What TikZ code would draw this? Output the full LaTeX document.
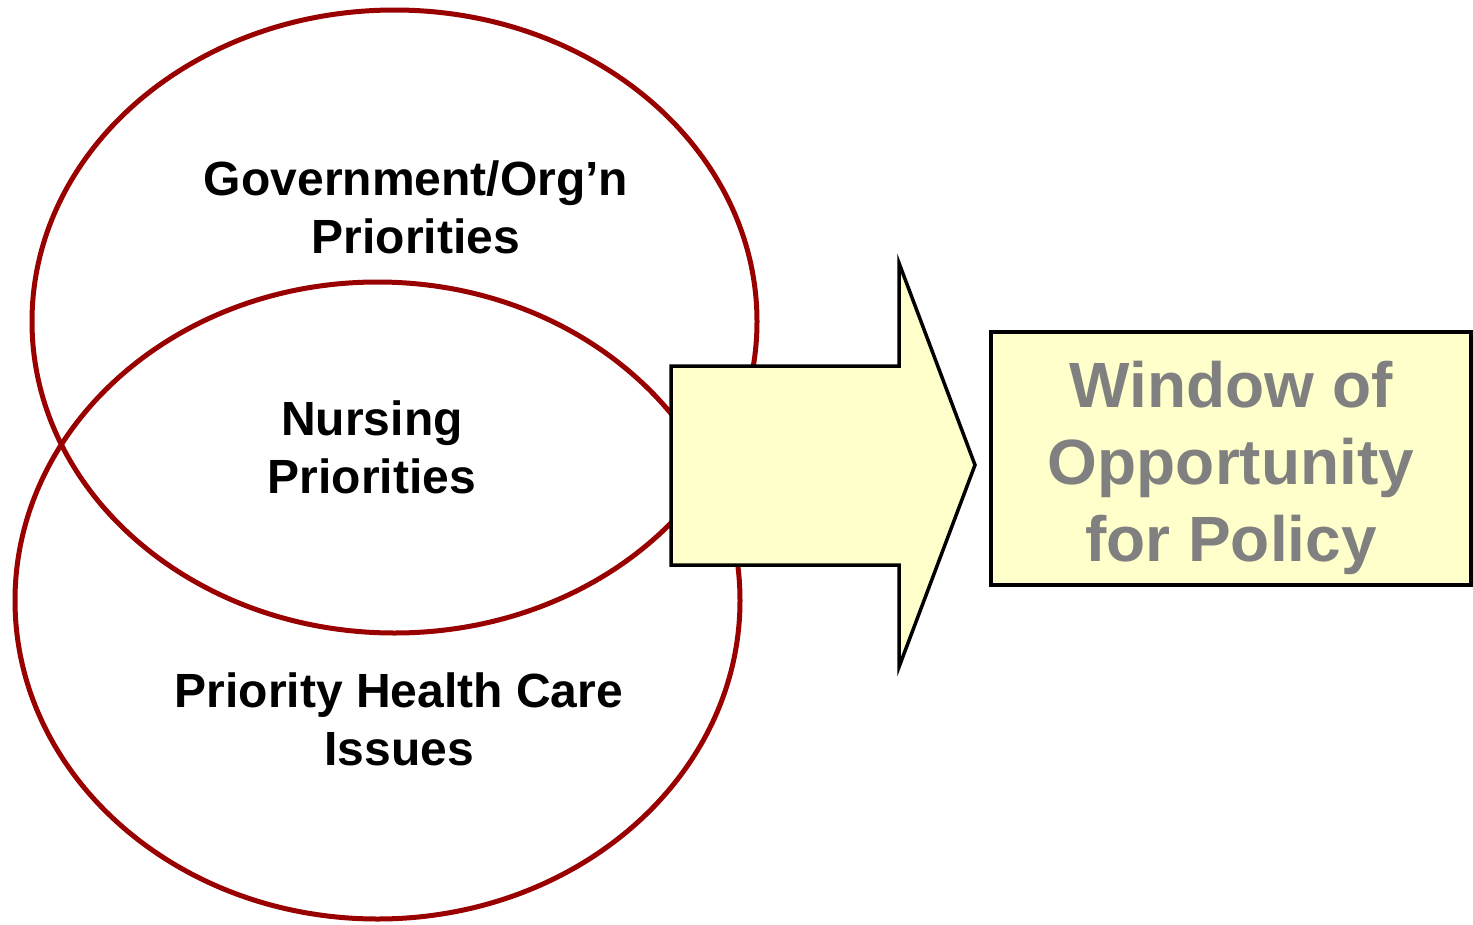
\documentclass[tikz,border=0pt]{standalone}
\usepackage{fontspec}
\setmainfont{Liberation Sans}
\usetikzlibrary{shapes.geometric}
\definecolor{ringred}{HTML}{990000}
\definecolor{paleyellow}{HTML}{FFFFCC}
\definecolor{wingray}{HTML}{808080}
\tikzset{
  ring/.style={ellipse, draw=ringred, line width=5pt, inner sep=0pt, outer sep=0pt},
  bigarrow/.style={draw=black, fill=paleyellow, line width=3.5pt, line join=miter},
  winbox/.style={draw=black, fill=paleyellow, line width=3.5pt, inner sep=0pt,
    minimum width=480pt, minimum height=253pt},
  lbl/.style={align=center, inner sep=0pt, text=black,
    font=\fontsize{48}{58}\selectfont\bfseries},
  winlbl/.style={align=center, inner sep=0pt, text=wingray,
    font=\fontsize{64}{77}\selectfont\bfseries}
}
\begin{document}
\begin{tikzpicture}[x=1pt,y=-1pt]
\useasboundingbox (0,0) rectangle (1473,924);
% ellipses
\node[ring, minimum width=725pt, minimum height=623pt] (gov) at (394.5,321.5) {};
\node[ring, minimum width=725pt, minimum height=637pt] (care) at (377.5,600.5) {};
% arrow
\coordinate (a1) at (671,366);
\coordinate (a2) at (899,366);
\coordinate (a3) at (899,263);
\coordinate (tip) at (975,465);
\coordinate (a5) at (899,667);
\coordinate (a6) at (899,565);
\coordinate (a7) at (671,565);
\draw[bigarrow] (a1) -- (a2) -- (a3) -- (tip) -- (a5) -- (a6) -- (a7) -- cycle;
% box
\node[winbox] (win) at (1231,458.5) {};
\node[winlbl] (winlabel) at (1231,468) {Window of\\Opportunity\\for Policy};
% labels
\node[lbl] (govlabel) at (416,207) {Government/Org’n\\Priorities};
\node[lbl] (nurselabel) at (372,447) {Nursing\\Priorities};
\node[lbl] (carelabel) at (399,719) {Priority Health Care\\Issues};
\end{tikzpicture}
\end{document}
